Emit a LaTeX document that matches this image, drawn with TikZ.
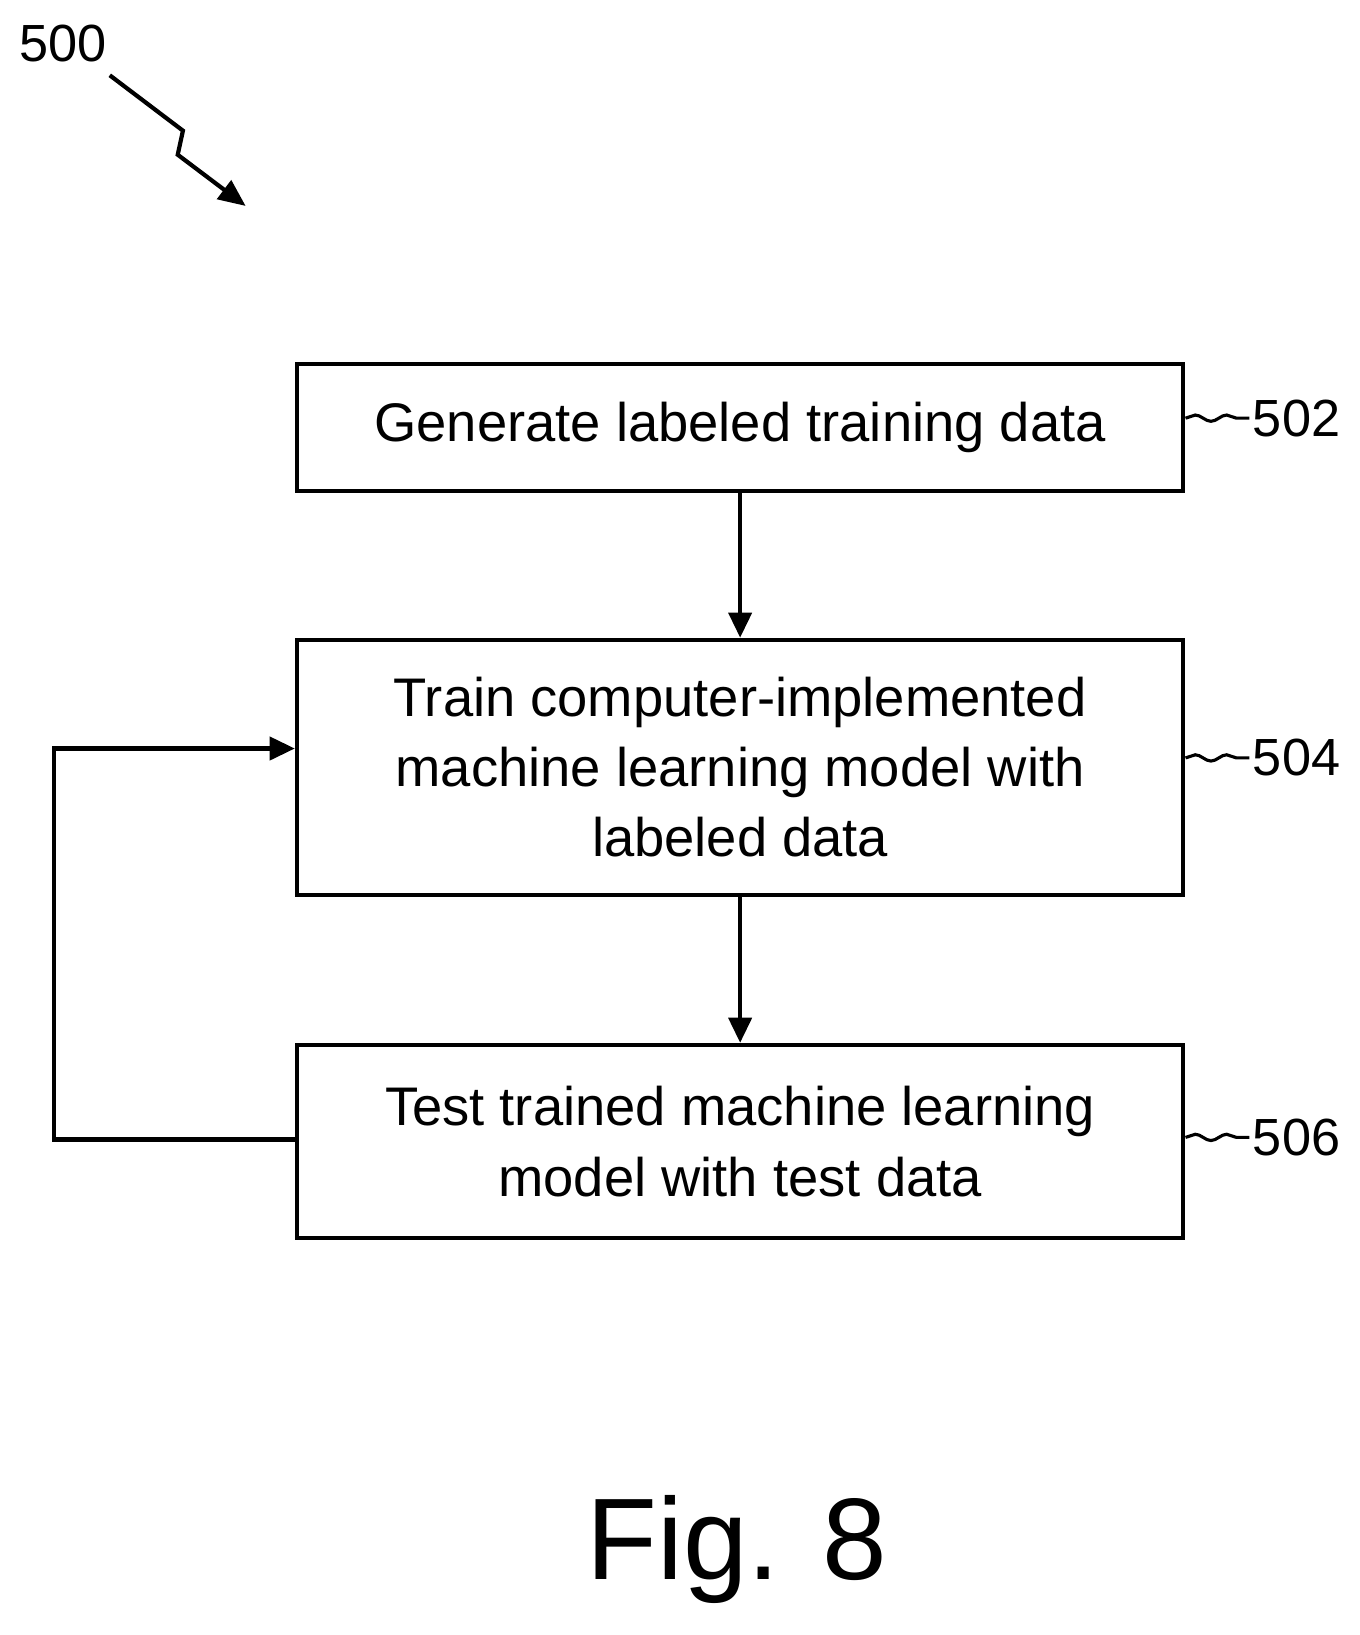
\documentclass[tikz,border=0pt]{standalone}
\usepackage{fontspec}
\setmainfont{Liberation Sans}
\usetikzlibrary{arrows.meta,decorations.pathmorphing}
\begin{document}
\begin{tikzpicture}[x=1pt,y=-1pt,
  box/.style={draw,line width=4pt,minimum width=848pt,inner sep=0pt,align=center,font=\fontsize{52}{67}\selectfont},
  conn/.style={line width=4pt,-{Triangle[length=24pt,width=22pt]}},
  lab/.style={font=\fontsize{50}{56}\selectfont,anchor=west},
  sq/.style={line width=3pt,decorate,decoration={snake,amplitude=3pt,segment length=30pt}}]
\useasboundingbox (0,0) rectangle (1300,1564);
\node[box,minimum height=122pt] (b502) at (708,409) {Generate labeled training data};
\node[box,minimum height=244pt] (b504) at (708,734) {Train computer-implemented\\machine learning model with\\labeled data};
\node[box,minimum height=185pt] (b506) at (708,1092) {Test trained machine learning\\model with test data};
\draw[conn] (b502) -- (b504);
\draw[conn] (b504) -- (b506);
\coordinate (c1) at (52,1090);
\coordinate (c2) at (52,716);
\draw[conn] (b506.west |- c1) -- (c1) -- (c2) -- (b504.west |- c2);
\node[lab] (l502) at (1195,400) {502};
\node[lab] (l504) at (1195,725) {504};
\node[lab] (l506) at (1195,1088) {506};
\draw[sq] (b502.east |- l502) -- (l502.west);
\draw[sq] (b504.east |- l504) -- (l504.west);
\draw[sq] (b506.east |- l506) -- (l506.west);
\node[font=\fontsize{50}{56}\selectfont] (l500) at (60,42) {500};
\coordinate (z1) at (175,125);
\coordinate (z2) at (170,148);
\coordinate (zend) at (235,197);
\draw[line width=4pt,-{Triangle[length=26pt,width=22pt]}] (105,72) -- (z1) -- (z2) -- (zend);
\node[font=\fontsize{111}{120}\selectfont] (fig) at (705,1482) {Fig. 8};
\end{tikzpicture}
\end{document}
